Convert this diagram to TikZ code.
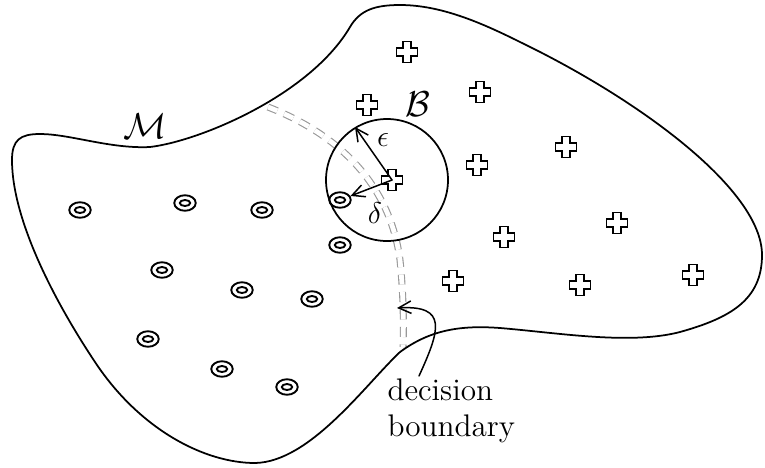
\documentclass[tikz,border=0pt]{standalone}
\usetikzlibrary{arrows.meta}
\tikzset{
  manifold/.style={line width=0.7pt},
  ringmark/.style={line width=0.75pt},
  crossmark/.style={line width=0.75pt, line join=miter},
  boundary/.style={draw=black!40, line width=0.45pt, double=white, double distance=1.9pt, dash pattern=on 4pt off 3pt, line cap=butt},
  lbl/.style={inner sep=0pt, font=\fontsize{13}{15}\selectfont},
}
\begin{document}
\begin{tikzpicture}[x=0.4pt, y=-0.4pt, line join=round, line cap=round, >={Straight Barb[length=5pt,width=5pt]}]
	\useasboundingbox (0,0) rectangle (765,467);
	% decision boundary
	\draw[boundary] (268,107) .. controls (340,135) and (390,185) .. (400,260) .. controls (403,290) and (404,320) .. (403,347);
	% the manifold
	\draw[manifold] (12,160) .. controls (12,140) and (20,134) .. (40,134)
		.. controls (70,134) and (110,149) .. (150,147)
		.. controls (200,141) and (310,95) .. (350,27)
		.. controls (360,10) and (375,5) .. (400,5)
		.. controls (440,5) and (480,22) .. (520,42)
		.. controls (640,100) and (762,190) .. (762,255)
		.. controls (762,300) and (730,318) .. (680,332)
		.. controls (630,345) and (560,333) .. (500,328)
		.. controls (460,325) and (430,330) .. (400,352)
		.. controls (365,385) and (310,462) .. (255,463)
		.. controls (205,463) and (140,430) .. (95,362)
		.. controls (55,302) and (12,220) .. cycle;
	% samples
	\foreach \n/\x/\y in {q1/80/210, q2/185/203, q3/262/210, q4/340/200, q5/340/245, q6/162/270, q7/242/290, q8/312/299, q9/148/339, q10/222/369, q11/287/387,
		p1/407/52, p2/367/105, p3/480/92, p4/566/147, p5/477/165, p6/392/180, p7/617/223, p8/504/237, p9/453/281, p10/580/285, p11/693/275}
	\coordinate (\n) at (\x,\y);
	\foreach \i in {1,...,11}
	\draw[ringmark] (q\i) ellipse[x radius=4.3pt, y radius=3.1pt] (q\i) ellipse[x radius=2.1pt, y radius=1.2pt];
	\foreach \i in {1,...,11}
	\draw[crossmark, shift={(p\i)}] (-4,-10.5) -- ++(8,0) -- ++(0,6.5) -- ++(6.5,0) -- ++(0,8) -- ++(-6.5,0) -- ++(0,6.5) -- ++(-8,0) -- ++(0,-6.5) -- ++(-6.5,0) -- ++(0,-8) -- ++(6.5,0) -- cycle;
	% the ball
	\coordinate (bc) at (387,180);
	\coordinate (bedge) at (355,127);
	\draw[manifold] (bc) circle[radius=24.4pt];
	\draw[->, line width=0.6pt] (p6) -- (bedge);
	\draw[->, line width=0.6pt, shorten >=4.5pt] (p6) -- (q4);
	\node[lbl, font=\fontsize{15}{17}\selectfont] (mlab) at (145,126) {$\mathcal{M}$};
	\node[lbl, font=\fontsize{15}{17}\selectfont] (blab) at (418,104) {$\mathcal{B}$};
	\node[lbl] (elab) at (383,140) {$\epsilon$};
	\node[lbl] (dlab) at (375,213) {$\delta$};
	\node[lbl, align=left, anchor=north west, font=\fontsize{12.5}{14.4}\selectfont] (dblab) at (387,378) {decision\\boundary};
	\coordinate (dbtip) at (397,308);
	\coordinate (dbtail) at (419,376);
	\draw[->, line width=0.6pt] (dbtail) .. controls (440,330) and (448,305) .. (dbtip);
\end{tikzpicture}
\end{document}
